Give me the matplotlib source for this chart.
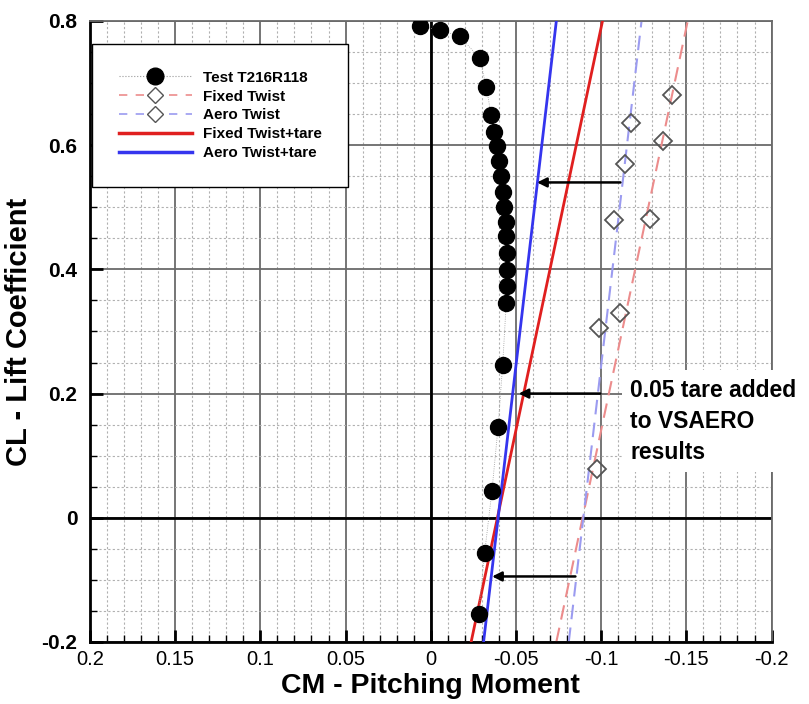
import matplotlib as mpl
mpl.use('Agg')
from matplotlib import pyplot as plt
from matplotlib.lines import Line2D
from matplotlib.ticker import MultipleLocator

plt.rcParams['font.family'] = ['Liberation Sans', 'DejaVu Sans']

# test data (Test T216R118)
test_cm = [0.0062, -0.0052, -0.0169, -0.0287, -0.0326, -0.0354, -0.0373, -0.0389,
           -0.0401, -0.0413, -0.0424, -0.0432, -0.0439, -0.0443, -0.0448, -0.0448,
           -0.0448, -0.0443, -0.0422, -0.0395, -0.0359, -0.0316, -0.0281]
test_cl = [0.792, 0.785, 0.776, 0.740, 0.694, 0.649, 0.622, 0.598, 0.574, 0.550,
           0.525, 0.501, 0.477, 0.453, 0.426, 0.399, 0.373, 0.346, 0.246, 0.146,
           0.043, -0.057, -0.155]

# VSAERO lines (end points)
line_cl = [-0.2, 0.8]
fixed_cm = [-0.0737, -0.1508]
aero_cm = [-0.0810, -0.1237]
tare = 0.05

# diamond markers on the VSAERO results
fixed_pts_cm = [-0.1417, -0.1364, -0.1289, -0.1113]
fixed_pts_cl = [0.681, 0.606, 0.481, 0.330]
aero_pts_cm = [-0.1178, -0.1142, -0.1078, -0.0990, -0.0976]
aero_pts_cl = [0.636, 0.570, 0.480, 0.306, 0.078]

# arrows showing the tare shift
arrow_cl = [0.540, 0.200, -0.0945]
arrow_from = [-0.1113, -0.0995, -0.0849]
arrow_to = [-0.0624, -0.0516, -0.0360]

fixed_tare = [c + tare for c in fixed_cm]
aero_tare = [c + tare for c in aero_cm]

red = '#e01f1f'
blue = '#3535ee'
red_l = '#ec8c8c'
blue_l = '#9b9bf0'

fig = plt.figure(figsize=(8.09, 7.04), dpi=100)
ax = fig.add_axes([0.1112, 0.0881, 0.8425, 0.8821])

# grid
ax.set_xlim(0.2, -0.2)
ax.set_ylim(-0.2, 0.8)
ax.xaxis.set_major_locator(MultipleLocator(0.05))
ax.xaxis.set_minor_locator(MultipleLocator(0.01))
ax.yaxis.set_major_locator(MultipleLocator(0.2))
ax.yaxis.set_minor_locator(MultipleLocator(0.05))
ax.grid(which='minor', color='#b0b0b0', linestyle=(0, (2, 2)), linewidth=0.8)
ax.grid(which='major', color='#6a6a6a', linestyle='-', linewidth=1.3)
ax.set_axisbelow(True)
ax.axhline(0, color='black', lw=2, zorder=1.5)
ax.axvline(0, color='black', lw=2, zorder=1.5)

# dashed VSAERO results
ax.plot(fixed_cm, line_cl, color=red_l, lw=1.5, ls=(0, (7, 4)), zorder=2)
ax.plot(aero_cm, line_cl, color=blue_l, lw=1.5, ls=(0, (7, 4)), zorder=2)
ax.plot(fixed_pts_cm, fixed_pts_cl, 'D', ms=9, mfc='none', mec='#555555', mew=1.3, zorder=3)
ax.plot(aero_pts_cm, aero_pts_cl, 'D', ms=9, mfc='none', mec='#555555', mew=1.3, zorder=3)

# tare lines
ax.plot(fixed_tare, line_cl, color=red, lw=2, zorder=3)
ax.plot(aero_tare, line_cl, color=blue, lw=2, zorder=3)

# test
ax.plot(test_cm, test_cl, color='#999999', lw=0.6, ls=':', zorder=4)
ax.plot(test_cm, test_cl, 'o', color='black', ms=11.5, zorder=5)

for cl, x0, x1 in zip(arrow_cl, arrow_from, arrow_to):
    ax.annotate('', xy=(x1, cl), xytext=(x0, cl),
                arrowprops=dict(arrowstyle='-|>', color='black', lw=1.8,
                                mutation_scale=14, shrinkA=0, shrinkB=0),
                zorder=6)

ax.text(-0.1172, 0.224, '0.05 tare added\nto VSAERO\nresults', ha='left', va='top',
        fontsize=16.5, fontweight='bold', linespacing=1.45, clip_on=False, zorder=7,
        bbox=dict(fc='white', ec='none', pad=6))

# legend
handles = [
    Line2D([], [], color='#999999', lw=0.8, ls=':', marker='o', mfc='black', mec='black', ms=12),
    Line2D([], [], color=red_l, lw=1.2, ls=(0, (5, 5)), marker='D', mfc='white', mec='#555555', ms=8),
    Line2D([], [], color=blue_l, lw=1.2, ls=(0, (5, 5)), marker='D', mfc='white', mec='#555555', ms=8),
    Line2D([], [], color=red, lw=2.5),
    Line2D([], [], color=blue, lw=2.5),
]
labels = ['Test T216R118', 'Fixed Twist', 'Aero Twist', 'Fixed Twist+tare', 'Aero Twist+tare']
leg = ax.legend(handles, labels, loc='upper left', bbox_to_anchor=(0.003, 0.963),
                prop={'weight': 'bold', 'size': 11}, frameon=True, fancybox=False,
                handlelength=4.8, handletextpad=0.7, labelspacing=0.32,
                borderpad=1.75, borderaxespad=0)
leg.get_frame().set_edgecolor('black')
leg.get_frame().set_linewidth(1.0)
leg.get_frame().set_alpha(1)
leg.set_zorder(10)

# axes styling
for s in ['left', 'bottom']:
    ax.spines[s].set_linewidth(2)
    ax.spines[s].set_color('black')
for s in ['top', 'right']:
    ax.spines[s].set_linewidth(1.3)
    ax.spines[s].set_color('#6a6a6a')
ax.tick_params(which='both', direction='in', top=False, right=False, color='black')
ax.tick_params(which='major', length=9, width=2)
ax.tick_params(which='minor', length=5, width=1)
ax.tick_params(axis='x', which='major', pad=6)
ax.tick_params(axis='y', which='major', pad=9)

ax.set_xticks([0.2, 0.15, 0.1, 0.05, 0, -0.05, -0.1, -0.15, -0.2])
ax.set_xticklabels(['0.2', '0.15', '0.1', '0.05', '0', '-0.05', '-0.1', '-0.15', '-0.2'],
                   fontsize=14.5)
ax.set_yticks([-0.2, 0, 0.2, 0.4, 0.6, 0.8])
ax.set_yticklabels(['-0.2', '0', '0.2', '0.4', '0.6', '0.8'], fontsize=15, fontweight='bold')

ax.set_xlabel('CM - Pitching Moment', fontsize=20.5, fontweight='bold', labelpad=3)
ax.set_ylabel('CL - Lift Coefficient', fontsize=21, fontweight='bold', labelpad=6)

plt.savefig('out.png', dpi=100)
plt.close()
